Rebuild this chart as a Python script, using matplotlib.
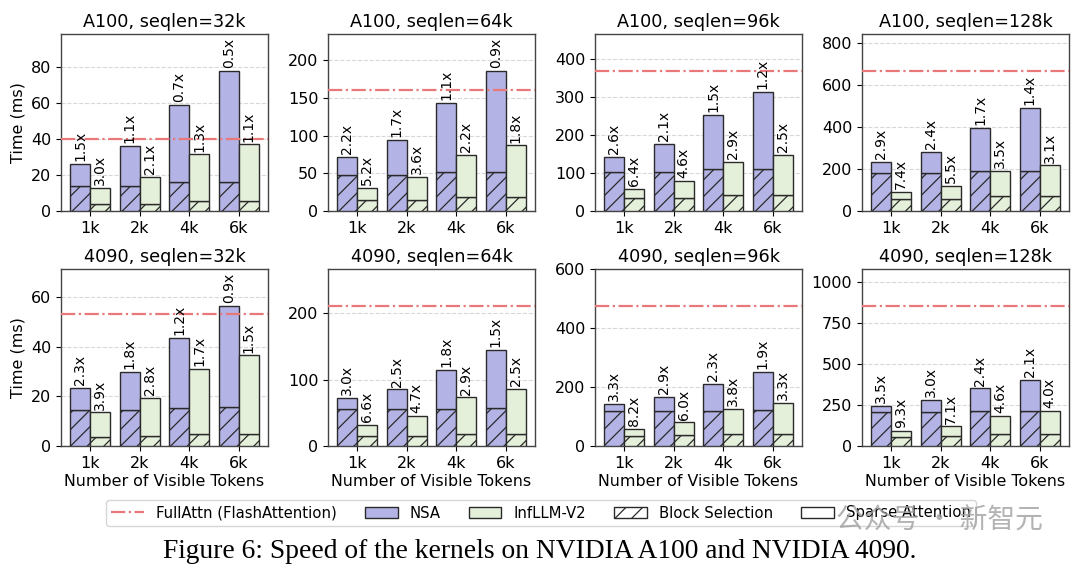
"""
Speed of the kernels on NVIDIA A100 / 4090: NSA vs InfLLM-V2,
stacked block-selection part (hatched) + sparse attention part.
"""

import matplotlib
matplotlib.use("Agg")
import matplotlib.pyplot as plt
import matplotlib.patches as mpatches
from matplotlib.lines import Line2D
from matplotlib.ticker import MultipleLocator
import numpy as np

TOKENS = ["1k", "2k", "4k", "6k"]
GPUS = ["A100", "4090"]
SEQLENS = ["32k", "64k", "96k", "128k"]

# FullAttn (FlashAttention) time, ms
FULL_A100 = [40, 161, 368, 667]
FULL_4090 = [53, 211, 476, 857]

# NSA total time / block-selection part
NSA_A100 = [[26, 36, 59, 78], [72, 94, 143, 186], [141, 176, 253, 313], [232, 282, 396, 490]]
NSA_SEL_A100 = [[14, 14, 16, 16], [48, 48, 52, 52], [103, 103, 109, 109], [180, 180, 189, 189]]
NSA_4090 = [[23.5, 30, 43.5, 56.5], [72, 85, 115, 145], [143, 166, 212, 252], [245, 282, 352, 405]]
NSA_SEL_4090 = [[14.7, 14.7, 15.5, 15.7], [55, 55, 56, 57], [118, 118, 120, 121], [206, 206, 212, 212]]

# InfLLM-V2 total time / block-selection part
INF_A100 = [[13, 19, 31.5, 37], [31, 45, 74, 87], [58, 80, 128, 148], [90, 120, 191, 217]]
INF_SEL_A100 = [[4, 4, 5.5, 5.5], [14, 15, 18, 18], [33, 35, 43, 43], [56, 58, 73, 73]]
INF_4090 = [[13.5, 19.3, 31, 36.5], [32, 45, 73, 86], [59, 80, 126, 146], [92, 120, 186, 214]]
INF_SEL_4090 = [[3.8, 3.9, 5, 5], [15, 15.5, 18, 18], [35, 36, 41, 41], [58, 60, 72, 73]]

# speedup labels over FullAttn
NSA_SPD_A100 = [["1.5x", "1.1x", "0.7x", "0.5x"], ["2.2x", "1.7x", "1.1x", "0.9x"],
                ["2.6x", "2.1x", "1.5x", "1.2x"], ["2.9x", "2.4x", "1.7x", "1.4x"]]
INF_SPD_A100 = [["3.0x", "2.1x", "1.3x", "1.1x"], ["5.2x", "3.6x", "2.2x", "1.8x"],
                ["6.4x", "4.6x", "2.9x", "2.5x"], ["7.4x", "5.5x", "3.5x", "3.1x"]]
NSA_SPD_4090 = [["2.3x", "1.8x", "1.2x", "0.9x"], ["3.0x", "2.5x", "1.8x", "1.5x"],
                ["3.3x", "2.9x", "2.3x", "1.9x"], ["3.5x", "3.0x", "2.4x", "2.1x"]]
INF_SPD_4090 = [["3.9x", "2.8x", "1.7x", "1.5x"], ["6.6x", "4.7x", "2.9x", "2.5x"],
                ["8.2x", "6.0x", "3.8x", "3.3x"], ["9.3x", "7.1x", "4.6x", "4.0x"]]

TICK_STEP = [[20, 50, 100, 200], [20, 100, 200, 250]]

NSA_COLOR = "#b3b3e5"
INF_COLOR = "#e5f0da"
FULL_COLOR = "#e8787a"
EDGE = "#2a2a2a"

plt.rcParams["font.family"] = "DejaVu Sans"
plt.rcParams["hatch.linewidth"] = 0.9


def draw_panel(ax, full, nsa, nsa_sel, inf, inf_sel, nsa_spd, inf_spd, step):
    x = np.arange(len(TOKENS))
    w = 0.4
    nsa = np.array(nsa)
    inf = np.array(inf)
    nsa_sel = np.array(nsa_sel)
    inf_sel = np.array(inf_sel)

    # block selection (hatched) at bottom, sparse attention stacked on top
    ax.bar(x - w / 2, nsa_sel, w, color=NSA_COLOR, edgecolor=EDGE, hatch="//", linewidth=1, zorder=3)
    ax.bar(x - w / 2, nsa - nsa_sel, w, bottom=nsa_sel, color=NSA_COLOR, edgecolor=EDGE, linewidth=1, zorder=3)
    ax.bar(x + w / 2, inf_sel, w, color=INF_COLOR, edgecolor=EDGE, hatch="//", linewidth=1, zorder=3)
    ax.bar(x + w / 2, inf - inf_sel, w, bottom=inf_sel, color=INF_COLOR, edgecolor=EDGE, linewidth=1, zorder=3)

    ax.axhline(full, color=FULL_COLOR, linestyle="-.", linewidth=1.6, zorder=4)

    for xi, v, s in zip(x - w / 2, nsa, nsa_spd):
        ax.annotate(s, (xi, v), xytext=(0, 2), textcoords="offset points",
                    rotation=90, ha="center", va="bottom", fontsize=10, zorder=5)
    for xi, v, s in zip(x + w / 2, inf, inf_spd):
        ax.annotate(s, (xi, v), xytext=(0, 2), textcoords="offset points",
                    rotation=90, ha="center", va="bottom", fontsize=10, zorder=5)

    ax.set_ylim(0, max(full, nsa.max(), inf.max()) * 1.262)
    ax.yaxis.set_major_locator(MultipleLocator(step))
    ax.set_xticks(x)
    ax.set_xticklabels(TOKENS)
    ax.tick_params(labelsize=11.5)
    ax.grid(axis="y", linestyle="--", color="#d8d8d8", linewidth=0.8, zorder=0)
    for sp in ax.spines.values():
        sp.set_color("#444444")
        sp.set_linewidth(1.0)


def main():
    fig = plt.figure(figsize=(10.8, 5.69), dpi=100)
    W, H = 1080, 569
    lefts = [61, 328, 595, 862]
    tops = [34, 269]
    aw, ah = 207, 177

    data = {
        "A100": (FULL_A100, NSA_A100, NSA_SEL_A100, INF_A100, INF_SEL_A100, NSA_SPD_A100, INF_SPD_A100),
        "4090": (FULL_4090, NSA_4090, NSA_SEL_4090, INF_4090, INF_SEL_4090, NSA_SPD_4090, INF_SPD_4090),
    }

    for r, gpu in enumerate(GPUS):
        full, nsa, nsa_sel, inf, inf_sel, nsa_spd, inf_spd = data[gpu]
        for c, seq in enumerate(SEQLENS):
            ax = fig.add_axes([lefts[c] / W, 1 - (tops[r] + ah) / H, aw / W, ah / H])
            draw_panel(ax, full[c], nsa[c], nsa_sel[c], inf[c], inf_sel[c],
                       nsa_spd[c], inf_spd[c], TICK_STEP[r][c])
            ax.set_title(f"{gpu}, seqlen={seq}", fontsize=12.7, pad=5)
            if c == 0:
                ax.set_ylabel("Time (ms)", fontsize=11.5)
            if r == 1:
                ax.set_xlabel("Number of Visible Tokens", fontsize=11.4, labelpad=2)

    handles = [
        Line2D([0], [0], color=FULL_COLOR, linestyle="-.", linewidth=1.6, label="FullAttn (FlashAttention)"),
        mpatches.Patch(facecolor=NSA_COLOR, edgecolor=EDGE, label="NSA"),
        mpatches.Patch(facecolor=INF_COLOR, edgecolor=EDGE, label="InfLLM-V2"),
        mpatches.Patch(facecolor="white", edgecolor=EDGE, hatch="//", label="Block Selection"),
        mpatches.Patch(facecolor="white", edgecolor=EDGE, label="Sparse Attention"),
    ]
    fig.legend(handles=handles, loc="center", bbox_to_anchor=(541 / W, 1 - 513 / H),
               ncol=5, fontsize=10.7, frameon=True, edgecolor="#cccccc",
               columnspacing=1.9, handlelength=2.2, borderpad=0.35)

    fig.text(540 / W, 1 - 551 / H,
             "Figure 6: Speed of the kernels on NVIDIA A100 and NVIDIA 4090.",
             ha="center", va="center", fontsize=19.8, family="Liberation Serif")

    # watermark, drawn over the legend
    fig.text(1043 / W, 1 - 521 / H, "公众号 · 新智元", ha="right", va="center",
             fontsize=20, color="#a0a0a0", alpha=0.8, zorder=10,
             family=["Noto Sans CJK SC", "DejaVu Sans"])

    fig.savefig("out.png", dpi=100, facecolor="white")
    plt.close(fig)


if __name__ == "__main__":
    main()
